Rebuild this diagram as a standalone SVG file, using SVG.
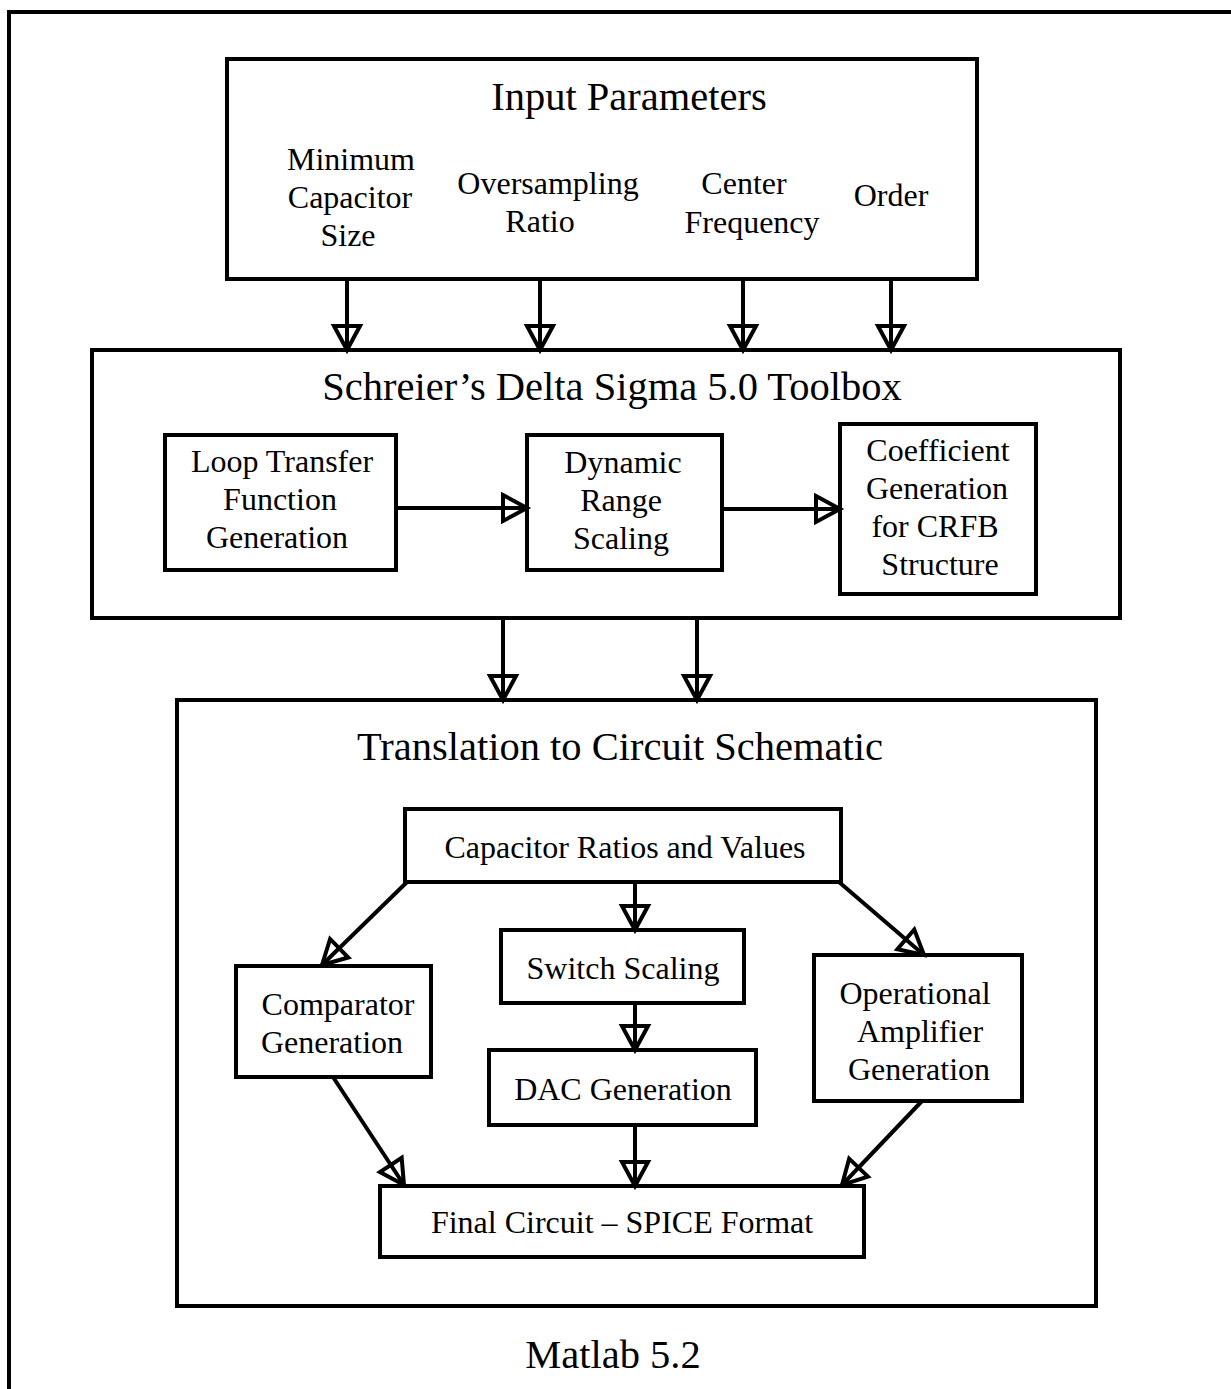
<svg xmlns="http://www.w3.org/2000/svg" width="1231" height="1389" viewBox="0 0 1231 1389">
<style>
.box{fill:none;stroke:#000;stroke-width:4}
.ln{fill:none;stroke:#000;stroke-width:4;marker-end:url(#arr)}
text{font-family:"Liberation Serif","Times New Roman",serif;fill:#000;text-anchor:middle}
.t{font-size:40.5px}
.s{font-size:32px}
</style>
<defs>
<marker id="arr" markerUnits="userSpaceOnUse" markerWidth="34" markerHeight="34" viewBox="-4 -17 34 34" refX="25" refY="0" orient="auto">
<path d="M1,-13 L25,0 L1,13 Z" fill="#fff" stroke="#000" stroke-width="4" stroke-linejoin="miter"/>
<path d="M0,0 L25,0" stroke="#000" stroke-width="4"/>
</marker>
</defs>
<rect width="1231" height="1389" fill="#fff"/>
<path d="M9,1389 V12 H1231" class="box" stroke-width="4"/>

<g id="input">
<rect class="box" x="227" y="59" width="750" height="220"/>
<text class="t" x="629" y="110">Input Parameters</text>
<text class="s" x="351" y="170">Minimum</text>
<text class="s" x="350" y="208">Capacitor</text>
<text class="s" x="348" y="246">Size</text>
<text class="s" x="548" y="194">Oversampling</text>
<text class="s" x="540" y="232">Ratio</text>
<text class="s" x="744" y="194">Center</text>
<text class="s" x="752" y="233">Frequency</text>
<text class="s" x="891" y="206">Order</text>
</g>

<g id="toolbox">
<rect class="box" x="92" y="350" width="1028" height="268"/>
<text class="t" x="612" y="400">Schreier’s Delta Sigma 5.0 Toolbox</text>
</g>
<g id="loop">
<rect class="box" x="165" y="435" width="231" height="135"/>
<text class="s" x="282" y="472">Loop Transfer</text>
<text class="s" x="280" y="510">Function</text>
<text class="s" x="277" y="548">Generation</text>
</g>
<g id="dynamic">
<rect class="box" x="527" y="435" width="195" height="135"/>
<text class="s" x="623" y="473">Dynamic</text>
<text class="s" x="621" y="511">Range</text>
<text class="s" x="621" y="549">Scaling</text>
</g>
<g id="coef">
<rect class="box" x="840" y="424" width="196" height="170"/>
<text class="s" x="938" y="461">Coefficient</text>
<text class="s" x="937" y="499">Generation</text>
<text class="s" x="935" y="537">for CRFB</text>
<text class="s" x="940" y="575">Structure</text>
</g>

<g id="translation">
<rect class="box" x="177" y="700" width="919" height="606"/>
<text class="t" x="620" y="760">Translation to Circuit Schematic</text>
</g>
<g id="capacitor">
<rect class="box" x="405" y="809" width="436" height="73"/>
<text class="s" x="625" y="858">Capacitor Ratios and Values</text>
</g>
<g id="switch">
<rect class="box" x="501" y="930" width="243" height="73"/>
<text class="s" x="623" y="979">Switch Scaling</text>
</g>
<g id="dac">
<rect class="box" x="489" y="1050" width="267" height="75"/>
<text class="s" x="623" y="1100">DAC Generation</text>
</g>
<g id="comparator">
<rect class="box" x="236" y="966" width="195" height="111"/>
<text class="s" x="338" y="1015">Comparator</text>
<text class="s" x="332" y="1053">Generation</text>
</g>
<g id="opamp">
<rect class="box" x="814" y="955" width="208" height="146"/>
<text class="s" x="915" y="1004">Operational</text>
<text class="s" x="920" y="1042">Amplifier</text>
<text class="s" x="919" y="1080">Generation</text>
</g>
<g id="final">
<rect class="box" x="380" y="1186" width="484" height="71"/>
<text class="s" x="622" y="1233">Final Circuit – SPICE Format</text>
</g>

<g id="matlab">
<text class="t" x="613" y="1368">Matlab 5.2</text>
</g>

<g id="connectors">
<path class="ln" d="M347,279 V350"/>
<path class="ln" d="M540,279 V350"/>
<path class="ln" d="M743,279 V350"/>
<path class="ln" d="M891,279 V350"/>
<path class="ln" d="M396,508 H527"/>
<path class="ln" d="M722,509 H840"/>
<path class="ln" d="M503,618 V700"/>
<path class="ln" d="M697,618 V700"/>
<path class="ln" d="M407,882 L322,965"/>
<path class="ln" d="M635,882 V930"/>
<path class="ln" d="M839,882 L924,955"/>
<path class="ln" d="M635,1003 V1050"/>
<path class="ln" d="M635,1125 V1186"/>
<path class="ln" d="M333,1077 L404,1185"/>
<path class="ln" d="M922,1101 L842,1185"/>
</g>
</svg>
